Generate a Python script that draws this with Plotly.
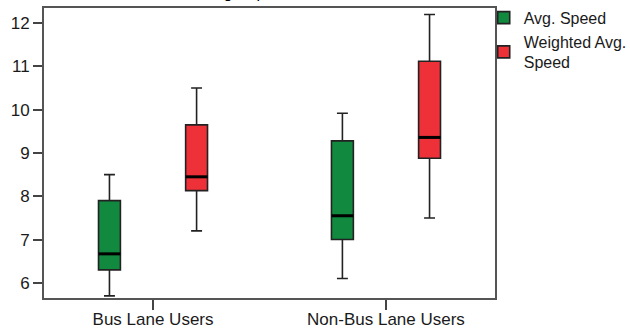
import plotly.graph_objects as go

# Groups and their five-number summaries (speed values)
groups = ["Bus Lane Users", "Non-Bus Lane Users"]

avg_lower = [5.7, 6.1]
avg_q1 = [6.3, 7.0]
avg_median = [6.67, 7.55]
avg_q3 = [7.9, 9.28]
avg_upper = [8.5, 9.92]

wavg_lower = [7.2, 7.5]
wavg_q1 = [8.13, 8.88]
wavg_median = [8.45, 9.36]
wavg_q3 = [9.65, 11.12]
wavg_upper = [10.5, 12.2]

y_ticks = [6, 7, 8, 9, 10, 11, 12]

GREEN = "#11893f"
RED = "#ee3039"
OUTLINE = "#222222"
FONT = "Liberation Sans, Arial, sans-serif"

offset = 0.187   # shift of each box from its group centre
box_w = 0.094    # box width in axis units

positions = list(range(len(groups)))

series = [
    ("Avg. Speed", GREEN, -offset, avg_lower, avg_q1, avg_median, avg_q3, avg_upper),
    ("Weighted Avg.<br>Speed", RED, offset, wavg_lower, wavg_q1, wavg_median, wavg_q3, wavg_upper),
]

fig = go.Figure()
for name, color, shift, lo, q1, med, q3, hi in series:
    xs = [p + shift for p in positions]
    fig.add_trace(go.Box(
        name=name,
        x=xs,
        lowerfence=lo, q1=q1, median=med, q3=q3, upperfence=hi,
        width=box_w,
        whiskerwidth=0.5,
        fillcolor=color,
        line=dict(color=OUTLINE, width=1.6),
        boxpoints=False,
        hoverinfo="skip",
    ))

# heavier median bars drawn over each box
for name, color, shift, lo, q1, med, q3, hi in series:
    mx, my = [], []
    for p, m in zip(positions, med):
        c = p + shift
        mx += [c - box_w / 2, c + box_w / 2, None]
        my += [m, m, None]
    fig.add_trace(go.Scatter(
        x=mx, y=my, mode="lines",
        line=dict(color="black", width=3),
        showlegend=False, hoverinfo="skip",
    ))

# title sits above the frame, mostly beyond the top edge
fig.add_annotation(
    text="Average Speed",
    xref="paper", yref="paper",
    x=0.3016, y=1.017,
    xanchor="left", yanchor="bottom",
    showarrow=False,
    font=dict(family=FONT, size=16, color="black"),
)

fig.update_layout(
    width=630, height=330,
    margin=dict(l=44, r=135, t=8, b=32, autoexpand=False),
    paper_bgcolor="white",
    plot_bgcolor="white",
    font=dict(family=FONT, size=17, color="#1a1a1a"),
    boxmode="overlay",
    showlegend=True,
    legend=dict(
        x=0.975, y=1.025, xanchor="left", yanchor="top",
        bgcolor="rgba(0,0,0,0)",
        font=dict(family=FONT, size=16, color="#1a1a1a"),
        tracegroupgap=0,
        itemwidth=30,
    ),
    xaxis=dict(
        range=[-0.468, 1.468],
        tickmode="array",
        tickvals=positions,
        ticktext=groups,
        ticks="outside", ticklen=10, tickwidth=2, tickcolor="#444",
        ticklabelstandoff=-5,
        showline=True, linecolor="#555", linewidth=2, mirror=True,
        showgrid=False, zeroline=False, automargin=False,
        tickfont=dict(family=FONT, size=17, color="#1a1a1a"),
    ),
    yaxis=dict(
        range=[5.65, 12.35],
        tickmode="array",
        tickvals=y_ticks,
        ticks="outside", ticklen=9, tickwidth=2, tickcolor="#444",
        showline=True, linecolor="#555", linewidth=2, mirror=True,
        showgrid=False, zeroline=False, automargin=False,
        tickfont=dict(family=FONT, size=17, color="#1a1a1a"),
    ),
)

fig.write_html("out.html")
